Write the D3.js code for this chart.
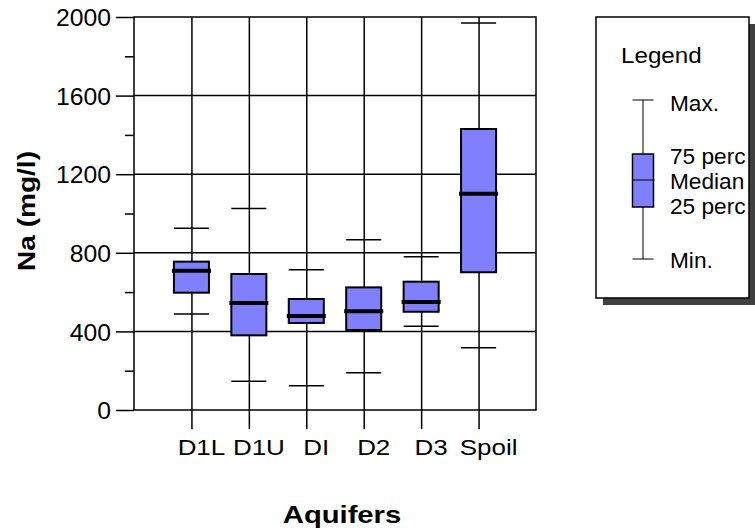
<!DOCTYPE html>
<html>
<head>
	<meta charset="utf-8">
	<title>Na by aquifer</title>
	<script src="https://d3js.org/d3.v7.min.js"></script>
	<style>
		body { margin: 0; background: #fff; }
		svg { display: block; }
		text { font-family: "Liberation Sans", Arial, sans-serif; fill: #000; }
		.grid line, .frame { stroke: #000; stroke-width: 1.5; fill: none; }
		.axis path { display: none; }
		.axis line { stroke: #000; stroke-width: 1.5; }
		.tick-label { font-size: 24px; }
		.cat-label { font-size: 22px; }
		.title { font-size: 23px; font-weight: bold; }
		.box { fill: #8080ff; stroke: #000; stroke-width: 2; }
		.whisker { stroke: #000; stroke-width: 1.5; }
		.median { stroke: #000; stroke-width: 4; }
		.legend-text { font-size: 22px; }
	</style>
</head>
<body>
	<svg width="755" height="532"></svg>
<script>
	// data
	const aquifers = [ 'D1L', 'D1U', 'DI', 'D2', 'D3', 'Spoil' ];
	const naMin    = [ 489, 146, 124, 190, 426, 317 ];
	const naQ1     = [ 597, 380, 443, 407, 500, 701 ];
	const naMedian = [ 709, 545, 478, 502, 550, 1101 ];
	const naQ3     = [ 755, 692, 565, 624, 653, 1430 ];
	const naMax    = [ 925, 1025, 714, 867, 780, 1969 ];
	const yTicks = [ 0, 400, 800, 1200, 1600, 2000 ];
	const yMinorTicks = [ 200, 600, 1000, 1400, 1800 ];
	// the legend box cuts the longer labels off, as in the original
	const legendLabels = [ 'Max.', '75 perc', 'Median', '25 perc', 'Min.' ];

	const rows = aquifers.map( ( a, i ) => ( {
		name: a, pos: i + 1,
		min: naMin[i], q1: naQ1[i], med: naMedian[i], q3: naQ3[i], max: naMax[i]
	} ) );

	const svg = d3.select( 'svg' );
	const plot = { left: 134, right: 536, top: 17, bottom: 410 };

	const x = d3.scaleLinear().domain( [ 0, aquifers.length + 1 ] ).range( [ plot.left, plot.right ] );
	const y = d3.scaleLinear().domain( [ 0, 2000 ] ).range( [ plot.bottom, plot.top ] );
	const step = x( 1 ) - x( 0 );
	const boxW = step * 0.61;

	// text with wider glyphs, like the original
	const wide = ( sel, k ) => sel.each( function () {
		const t = d3.select( this );
		const tx = +t.attr( 'x' ) || 0, ty = +t.attr( 'y' ) || 0;
		t.attr( 'x', null ).attr( 'y', null )
			.attr( 'transform', `translate(${ tx },${ ty }) scale(${ k },1)` );
	} );

	// horizontal grid
	svg.append( 'g' ).attr( 'class', 'grid' )
		.selectAll( 'line' ).data( yTicks.slice( 1, -1 ) ).join( 'line' )
		.attr( 'x1', plot.left ).attr( 'x2', plot.right )
		.attr( 'y1', d => y( d ) ).attr( 'y2', d => y( d ) );

	// vertical lines at each aquifer, running below the plot as ticks
	svg.append( 'g' ).attr( 'class', 'axis' )
		.attr( 'transform', `translate(0,${ plot.bottom })` )
		.call( d3.axisBottom( x ).tickValues( rows.map( r => r.pos ) )
			.tickSize( 19 ).tickFormat( '' ) )
		.selectAll( '.tick line' ).attr( 'y1', -( plot.bottom - plot.top ) );

	// y axis: major and minor ticks
	const yAxis = svg.append( 'g' ).attr( 'class', 'axis' )
		.attr( 'transform', `translate(${ plot.left },0)` )
		.call( d3.axisLeft( y ).tickValues( yTicks ).tickSize( 18 ).tickPadding( 5 )
			.tickFormat( d3.format( 'd' ) ) );
	yAxis.attr( 'font-size', null ).attr( 'font-family', null );
	yAxis.selectAll( 'text' ).attr( 'class', 'tick-label' ).attr( 'dy', '0.36em' );
	wide( yAxis.selectAll( 'text' ), 1.03 );

	svg.append( 'g' ).attr( 'class', 'axis' )
		.attr( 'transform', `translate(${ plot.left },0)` )
		.call( d3.axisLeft( y ).tickValues( yMinorTicks ).tickSize( 9 ).tickFormat( '' ) );

	// frame
	svg.append( 'rect' ).attr( 'class', 'frame' )
		.attr( 'x', plot.left ).attr( 'y', plot.top )
		.attr( 'width', plot.right - plot.left ).attr( 'height', plot.bottom - plot.top );

	// boxes
	const g = svg.append( 'g' ).selectAll( 'g' ).data( rows ).join( 'g' );
	g.append( 'line' ).attr( 'class', 'whisker' )
		.attr( 'x1', d => x( d.pos ) - boxW / 2 ).attr( 'x2', d => x( d.pos ) + boxW / 2 )
		.attr( 'y1', d => y( d.max ) ).attr( 'y2', d => y( d.max ) );
	g.append( 'line' ).attr( 'class', 'whisker' )
		.attr( 'x1', d => x( d.pos ) - boxW / 2 ).attr( 'x2', d => x( d.pos ) + boxW / 2 )
		.attr( 'y1', d => y( d.min ) ).attr( 'y2', d => y( d.min ) );
	g.append( 'rect' ).attr( 'class', 'box' )
		.attr( 'x', d => x( d.pos ) - boxW / 2 ).attr( 'width', boxW )
		.attr( 'y', d => y( d.q3 ) ).attr( 'height', d => y( d.q1 ) - y( d.q3 ) );
	g.append( 'line' ).attr( 'class', 'median' )
		.attr( 'x1', d => x( d.pos ) - boxW / 2 - 2 ).attr( 'x2', d => x( d.pos ) + boxW / 2 + 2 )
		.attr( 'y1', d => y( d.med ) ).attr( 'y2', d => y( d.med ) );

	// category labels
	const cats = svg.append( 'g' ).selectAll( 'text' ).data( rows ).join( 'text' )
		.attr( 'class', 'cat-label' )
		.attr( 'x', d => x( d.pos ) + 10 ).attr( 'y', 455 )
		.attr( 'text-anchor', 'middle' )
		.text( d => d.name );
	wide( cats, 1.18 );

	// axis titles
	wide( svg.append( 'text' ).attr( 'class', 'title' )
		.attr( 'x', 342 ).attr( 'y', 523 ).attr( 'text-anchor', 'middle' )
		.text( 'Aquifers' ), 1.27 );

	svg.append( 'text' ).attr( 'class', 'title' )
		.attr( 'text-anchor', 'middle' )
		.attr( 'transform', 'translate(35,211) rotate(-90) scale(1.22,1)' )
		.text( 'Na (mg/l)' );

	// legend
	const lg = { x: 596, y: 17, w: 153, h: 281 };
	svg.append( 'rect' )
		.attr( 'x', lg.x + 7 ).attr( 'y', lg.y + 7 ).attr( 'width', lg.w ).attr( 'height', lg.h )
		.attr( 'fill', '#404040' );
	svg.append( 'rect' )
		.attr( 'x', lg.x ).attr( 'y', lg.y ).attr( 'width', lg.w ).attr( 'height', lg.h )
		.attr( 'fill', '#fff' );
	const legend = svg.append( 'g' );

	wide( legend.append( 'text' ).attr( 'class', 'legend-text' )
		.attr( 'x', 621 ).attr( 'y', 63 ).text( 'Legend' ), 1.1 );

	const lx = 643, lw = 21;
	const ly = { max: 100, q3: 154, med: 180, q1: 207, min: 259 };
	legend.append( 'line' ).attr( 'stroke', '#000' )
		.attr( 'x1', lx ).attr( 'x2', lx ).attr( 'y1', ly.max ).attr( 'y2', ly.min );
	[ ly.max, ly.min ].forEach( v => legend.append( 'line' ).attr( 'stroke', '#000' )
		.attr( 'x1', lx - lw / 2 ).attr( 'x2', lx + lw / 2 ).attr( 'y1', v ).attr( 'y2', v ) );
	legend.append( 'rect' ).attr( 'fill', '#8080ff' ).attr( 'stroke', '#000' ).attr( 'stroke-width', 1.5 )
		.attr( 'x', lx - lw / 2 ).attr( 'width', lw ).attr( 'y', ly.q3 ).attr( 'height', ly.q1 - ly.q3 );
	legend.append( 'line' ).attr( 'stroke', '#000' )
		.attr( 'x1', lx - lw / 2 ).attr( 'x2', lx + lw / 2 + 1 ).attr( 'y1', ly.med ).attr( 'y2', ly.med );

	const labelY = [ 111, 164, 189, 214, 268 ];
	wide( legend.selectAll( 'text.item' ).data( legendLabels ).join( 'text' )
		.attr( 'class', 'legend-text item' )
		.attr( 'x', 670 ).attr( 'y', ( d, i ) => labelY[i] )
		.text( d => d ), 1.03 );

	svg.append( 'rect' )
		.attr( 'x', lg.x ).attr( 'y', lg.y ).attr( 'width', lg.w ).attr( 'height', lg.h )
		.attr( 'fill', 'none' ).attr( 'stroke', '#000' ).attr( 'stroke-width', 1.5 );
</script>
</body>
</html>
